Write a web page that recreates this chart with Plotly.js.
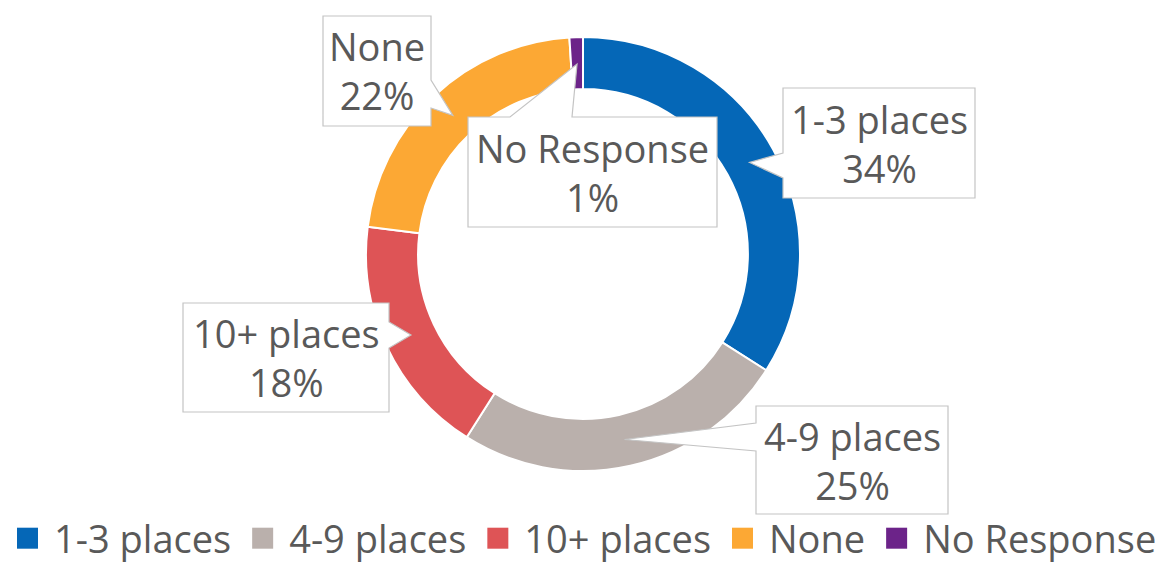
<!DOCTYPE html>
<html><head><meta charset="utf-8">
<script src="https://cdn.plot.ly/plotly-3.0.1.min.js"></script>
<style>html,body{margin:0;padding:0;background:#fff}</style>
</head><body>
<div id="chart" style="width:1170px;height:570px"></div>
<script>
// ---- data ----
const categories = ['1-3 places', '4-9 places', '10+ places', 'None', 'No Response'];
const percentages = [34, 25, 18, 22, 1];
const sliceColors = ['#0567b7', '#bab0ac', '#de5456', '#fca834', '#6c2389'];

// ---- layout constants (pixels) ----
const W = 1170, H = 570;
const CX = 583, CY = 254, R = 216, HOLE = 0.76;
const DOMAIN_R = 217;
const TEXT_COLOR = '#595959';
const FONT = 'Open Sans, Noto Sans, sans-serif';
// callout boxes: [left, top, right, bottom], side of pointer, pointer base span
const labelBoxes = [
  {box: [783, 88, 975, 198], side: 'left', base: [153, 178]},
  {box: [756, 406, 948, 514], side: 'left', base: [423, 451]},
  {box: [183, 303, 389, 412], side: 'right', base: [322, 348]},
  {box: [323, 16, 431, 126], side: 'right', base: [80, 108]},
  {box: [468, 117, 717, 227], side: 'top', base: [510, 572]}
];

const fx = x => x / W;
const fy = y => 1 - y / H;
const P = (x, y) => fx(x).toFixed(5) + ',' + fy(y).toFixed(5);

const total = percentages.reduce((a, b) => a + b, 0);
const rMid = R * (1 + HOLE) / 2;
let cum = 0;
const shapes = [], annotations = [];
percentages.forEach((v, i) => {
  const theta = 2 * Math.PI * (cum + v / 2) / total;
  cum += v;
  const tx = CX + rMid * Math.sin(theta);
  const ty = CY - rMid * Math.cos(theta);
  const lb = labelBoxes[i];
  const [L, T, Rr, B] = lb.box;
  const [b0, b1] = lb.base;
  let path;
  if (lb.side === 'left') {
    path = `M${P(L,T)}L${P(Rr,T)}L${P(Rr,B)}L${P(L,B)}L${P(L,b1)}L${P(tx,ty)}L${P(L,b0)}Z`;
  } else if (lb.side === 'right') {
    path = `M${P(L,T)}L${P(Rr,T)}L${P(Rr,b0)}L${P(tx,ty)}L${P(Rr,b1)}L${P(Rr,B)}L${P(L,B)}Z`;
  } else {
    path = `M${P(L,T)}L${P(b0,T)}L${P(tx,ty)}L${P(b1,T)}L${P(Rr,T)}L${P(Rr,B)}L${P(L,B)}Z`;
  }
  shapes.push({type: 'path', xref: 'paper', yref: 'paper', path: path,
    fillcolor: '#ffffff', line: {color: '#c4c4c4', width: 1.2}, layer: 'above'});
  annotations.push({xref: 'paper', yref: 'paper', x: fx((L + Rr) / 2), y: fy((T + B) / 2),
    xanchor: 'center', yanchor: 'middle', showarrow: false,
    text: categories[i] + '<br>' + percentages[i] + '%',
    font: {family: FONT, size: 38, color: TEXT_COLOR}});
});

const trace = {
  type: 'pie',
  labels: categories,
  values: percentages,
  marker: {colors: sliceColors, line: {color: '#ffffff', width: 2}},
  hole: HOLE,
  sort: false,
  direction: 'clockwise',
  rotation: 0,
  textinfo: 'none',
  hoverinfo: 'label+percent',
  domain: {x: [fx(CX - DOMAIN_R), fx(CX + DOMAIN_R)], y: [fy(CY + DOMAIN_R), fy(CY - DOMAIN_R)]}
};

const layout = {
  width: W, height: H,
  margin: {l: 0, r: 0, t: 0, b: 0, autoexpand: false},
  paper_bgcolor: '#ffffff',
  showlegend: true,
  legend: {orientation: 'h', xref: 'container', yref: 'container', x: 0.497, xanchor: 'center',
    y: -0.016, yanchor: 'bottom',
    font: {family: FONT, size: 38, color: TEXT_COLOR}, itemwidth: 43, bgcolor: 'rgba(0,0,0,0)'},
  shapes: shapes,
  annotations: annotations
};

function bigSymbols() {
  document.querySelectorAll('.legendpie').forEach(p => {
    p.setAttribute('d', 'M10.5,10.5H-10.5V-10.5H10.5Z');
    p.style.strokeWidth = '0';
  });
}
Plotly.newPlot('chart', [trace], layout, {displayModeBar: false, staticPlot: true}).then(() => {
  bigSymbols();
  setTimeout(bigSymbols, 50);
});
</script>
</body></html>
